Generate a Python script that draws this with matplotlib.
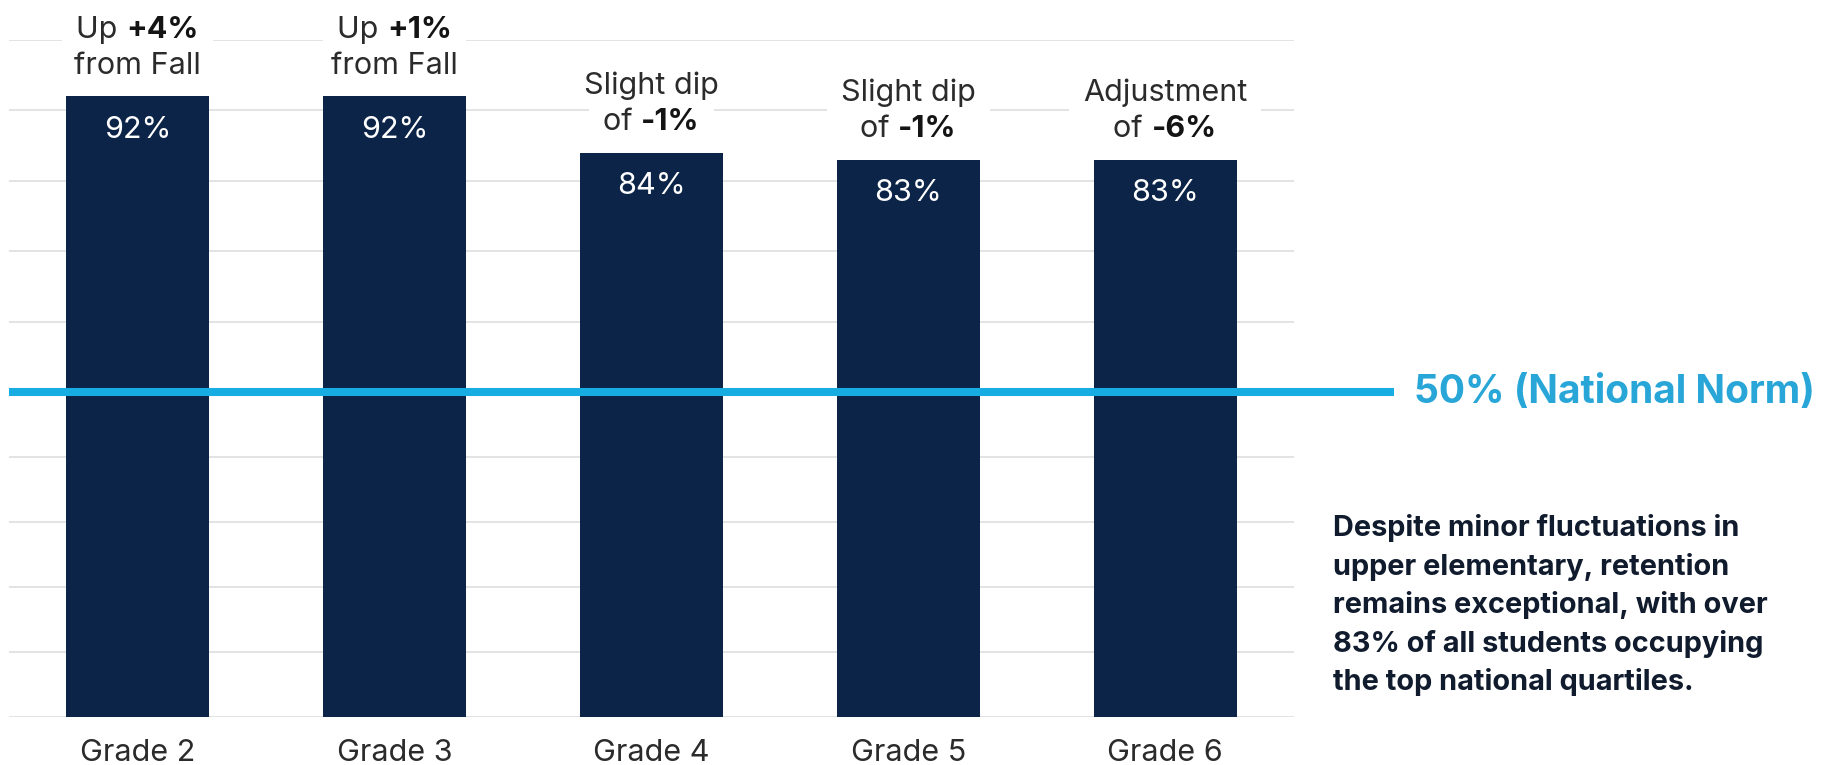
import numpy as np
import matplotlib
matplotlib.use("Agg")
import matplotlib.pyplot as plt
from matplotlib.patches import Rectangle
from matplotlib.transforms import IdentityTransform

# chart data
grades = ["Grade 2", "Grade 3", "Grade 4", "Grade 5", "Grade 6"]
retention = [92, 92, 84, 83, 83]
note_line1 = [("Up ", "+4%"), ("Up ", "+1%"), ("Slight dip", ""), ("Slight dip", ""), ("Adjustment", "")]
note_line2 = [("from Fall", ""), ("from Fall", ""), ("of ", "-1%"), ("of ", "-1%"), ("of ", "-6%")]
norm_value = 50
norm_label = "50% (National Norm)"
summary = ("Despite minor fluctuations in\nupper elementary, retention\n"
           "remains exceptional, with over\n83% of all students occupying\n"
           "the top national quartiles.")

NAVY = "#0b2447"
CYAN = "#18ade2"
FS = 22
plt.rcParams["font.family"] = ["Inter", "DejaVu Sans"]

fig = plt.figure(figsize=(18.22, 7.65), dpi=100)
ax = fig.add_axes([0.005, 0.0627, 0.705, 0.885])

# the picture's vertical scale is a bit stretched above the norm line
ys_in = [0, 50, 100]
ys_out = [0, 325, 677]
ax.set_yscale("function", functions=(lambda v: np.interp(v, ys_in, ys_out),
                                     lambda p: np.interp(p, ys_out, ys_in)))
ax.set_ylim(0, 100)
ax.set_xlim(-0.5, 4.5)
ax.set_autoscale_on(False)

x = np.arange(len(grades))
ax.bar(x, retention, width=0.556, color=NAVY, zorder=2)

ax.set_yticks(np.arange(0, 101, 10))
ax.yaxis.grid(True, color="#e3e3e3", lw=1.4)
ax.set_axisbelow(True)
for s in ax.spines.values():
    s.set_visible(False)
ax.tick_params(length=0, labelleft=False)
ax.set_xticks(x)
ax.set_xticklabels(grades, fontsize=FS, color="#2b2b2b")
ax.tick_params(axis="x", pad=16)

# national norm line, runs past the axes
ax.plot([-0.5, 4.89], [norm_value, norm_value], color=CYAN, lw=5.8,
        solid_capstyle="butt", clip_on=False, zorder=3)
ax.text(4.97, norm_value, norm_label, ha="left", va="center", fontsize=28,
        fontweight="bold", color="#29a6d8", clip_on=False)

# value labels inside the bars
for i, v in enumerate(retention):
    ax.annotate(f"{v}%", xy=(i, v), xytext=(0, -24), textcoords="offset points",
                ha="center", va="center", color="white", fontsize=FS, zorder=4)

fig.canvas.draw()
renderer = fig.canvas.get_renderer()


def mixed_line(i, v, parts, dy):
    normal, bold = parts
    t1 = ax.annotate(normal, xy=(i, v), xytext=(0, dy), textcoords="offset points",
                     ha="left", va="center", fontsize=FS, color="#2b2b2b", zorder=4)
    t2 = ax.annotate(bold, xy=(i, v), xytext=(0, dy), textcoords="offset points",
                     ha="left", va="center", fontsize=FS, fontweight="bold",
                     color="#141414", zorder=4)
    w1 = t1.get_window_extent(renderer).width if normal else 0
    w2 = t2.get_window_extent(renderer).width if bold else 0
    start = -(w1 + w2) / 2 * 72 / fig.dpi
    t1.set_position((start, dy))
    t2.set_position((start + w1 * 72 / fig.dpi, dy))
    # white patch behind the line so the gridlines break around it
    bb = t1.get_window_extent(renderer) if normal else t2.get_window_extent(renderer)
    x0 = bb.x0 - 14
    ax.add_patch(Rectangle((x0, bb.y0 - 4), w1 + w2 + 28, bb.height + 8,
                           transform=IdentityTransform(), fc="white", ec="none",
                           zorder=3, clip_on=False))


for i, v in enumerate(retention):
    mixed_line(i, v, note_line1[i], 48)
    mixed_line(i, v, note_line2[i], 22)

fig.text(0.7316, 0.328, summary, ha="left", va="top", fontsize=20.8,
         fontweight="bold", color="#101b2d", linespacing=1.48)

fig.savefig("out.png", dpi=100, facecolor="white")
